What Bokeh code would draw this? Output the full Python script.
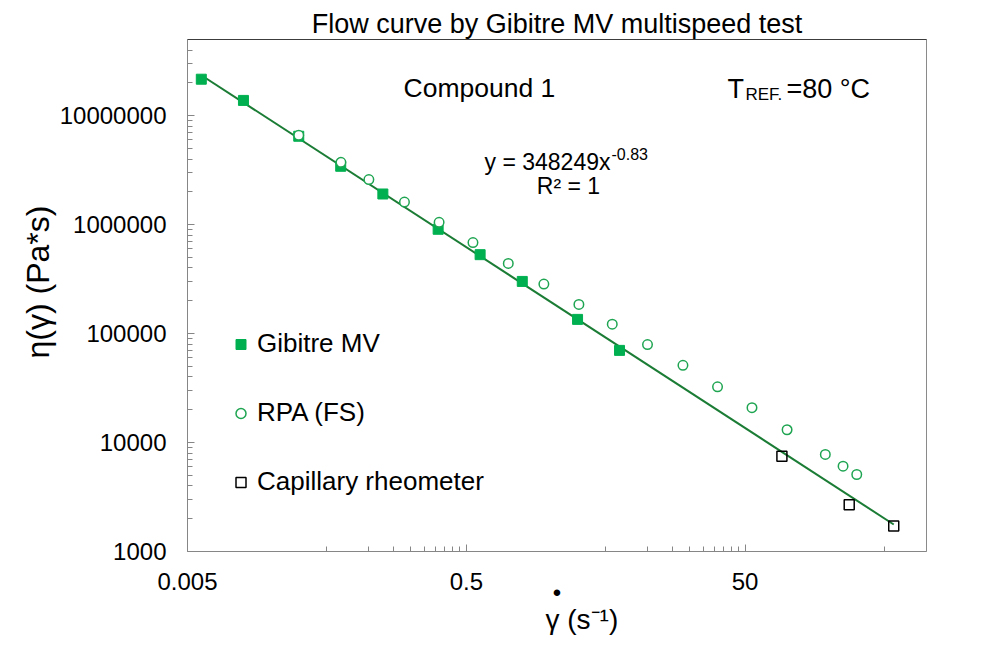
import math
from bokeh.plotting import figure
from bokeh.models import (Range1d, LogAxis, FixedTicker, Label, Legend, LegendItem,
                          CustomJSTickFormatter, Title)
from bokeh.embed import file_html
from bokeh.resources import INLINE

# ---------------- data ----------------
gibitre_rate = [0.00628, 0.0126, 0.0314, 0.0628, 0.126, 0.314, 0.628, 1.26, 3.14, 6.28]
gibitre_visc = [2.16e7, 1.38e7, 6.47e6, 3.43e6, 1.91e6, 9.06e5, 5.30e5, 3.01e5, 1.35e5, 7.01e4]

rpa_rate = [0.0314, 0.063, 0.100, 0.180, 0.319, 0.558, 1.00, 1.80, 3.21, 5.57,
            9.97, 17.9, 31.7, 56.0, 100, 188, 252, 316]
rpa_visc = [6.6e6, 3.73e6, 2.59e6, 1.61e6, 1.05e6, 6.84e5, 4.40e5, 2.85e5, 1.85e5, 1.22e5,
            7.92e4, 5.11e4, 3.25e4, 2.09e4, 1.31e4, 7.78e3, 6.07e3, 5.09e3]

cap_rate = [91.8, 279, 582]
cap_visc = [7.50e3, 2.68e3, 1.71e3]

# power-law trend line end points (y = 348249 x^-0.83)
fit_rate = [0.00628, 582]
fit_visc = [2.35e7, 1.77e3]

x_major = [0.005, 0.5, 50]
x_minor = [0.05, 0.1, 0.15, 0.2, 0.25, 0.3, 0.35, 0.4, 0.45,
           5, 10, 15, 20, 25, 30, 35, 40, 45, 500]
y_major = [1e3, 1e4, 1e5, 1e6, 1e7]
y_minor = [2e3, 3e3, 4e3, 5e3, 6e3, 7e3, 8e3, 9e3,
           2e4, 3e4, 4e4, 5e4, 6e4, 7e4, 8e4, 9e4,
           2e5, 3e5, 4e5, 5e5, 6e5, 7e5, 8e5, 9e5,
           2e6, 3e6, 4e6, 5e6, 6e6, 7e6, 8e6, 9e6,
           2e7, 3e7, 4e7]

title_text = "Flow curve by Gibitre MV multispeed test"
y_title = "η(γ) (Pa*s)"
x_title = "γ (s⁻¹)"
legend_labels = ["Gibitre MV", "RPA (FS)", "Capillary rheometer"]

# ---------------- styling ----------------
SANS = "Liberation Sans"
GREEN = "#00b050"
CIRCLE_GREEN = "#1fa552"
LINE_GREEN = "#1b7c35"
AXIS_GRAY = "#868686"

p = figure(width=984, height=641, x_axis_type="log", y_axis_type="log",
           x_range=Range1d(0.005, 1000), y_range=Range1d(1e3, 5e7),
           output_backend="svg", toolbar_location=None,
           min_border_left=187, min_border_right=58, min_border_top=39, min_border_bottom=90,
           background_fill_color="white", border_fill_color="white",
           outline_line_color="#8a8a8a")
p.xgrid.visible = False
p.ygrid.visible = False

p.title.text = title_text
p.title.text_font = SANS
p.title.text_font_size = "27px"
p.title.text_font_style = "normal"
p.title.text_color = "black"
p.title.align = "center"
p.title.standoff = 2

fmt = CustomJSTickFormatter(code="return tick.toString();")
for ax, maj, mino in ((p.xaxis[0], x_major, x_minor), (p.yaxis[0], y_major, y_minor)):
    ax.ticker = FixedTicker(ticks=maj, minor_ticks=mino)
    ax.formatter = fmt
    ax.axis_line_color = AXIS_GRAY
    ax.major_tick_line_color = AXIS_GRAY
    ax.minor_tick_line_color = AXIS_GRAY
    ax.major_tick_in = 7
    ax.major_tick_out = 0
    ax.minor_tick_in = 5
    ax.minor_tick_out = 0
    ax.major_label_text_font = SANS
    ax.major_label_text_font_size = "24px"
    ax.major_label_text_color = "black"
p.xaxis[0].major_label_standoff = 21
p.yaxis[0].major_label_standoff = 21

# y axis title as a side Title so it can be placed along the axis
yt = Title(text=y_title, align="left", offset=193, text_font=SANS,
           text_font_size="32px", text_font_style="normal", text_color="black",
           standoff=1)
p.add_layout(yt, "left")

# x axis title: the dot of gamma-dot as axis label, the rest as a Title below
p.xaxis[0].axis_label = "•"
p.xaxis[0].axis_label_text_font = SANS
p.xaxis[0].axis_label_text_font_size = "24px"
p.xaxis[0].axis_label_text_font_style = "normal"
p.xaxis[0].axis_label_text_color = "black"
p.xaxis[0].axis_label_standoff = -14

xt = Title(text=x_title, align="left", offset=545 - 187, text_font=SANS,
           text_font_size="28px", text_font_style="normal", text_color="black",
           standoff=-13)
p.add_layout(xt, "below")

top_axis = LogAxis(ticker=FixedTicker(ticks=[]), axis_line_color="#3c3c3c",
                   major_tick_in=0, major_tick_out=0, minor_tick_in=0, minor_tick_out=0,
                   major_label_text_font_size="0px", major_label_standoff=0)
p.add_layout(top_axis, "above")

r_fit = p.line(fit_rate, fit_visc, line_color=LINE_GREEN, line_width=2)
r_g = p.scatter(gibitre_rate, gibitre_visc, marker="square", size=10,
                fill_color=GREEN, line_color=GREEN)
r_r = p.scatter(rpa_rate, rpa_visc, marker="circle", size=9.5,
                fill_color="white", line_color=CIRCLE_GREEN, line_width=1.5)
r_c = p.scatter(cap_rate, cap_visc, marker="square", size=10,
                fill_color=None, line_color="black", line_width=1.5)

legend = Legend(items=[LegendItem(label=legend_labels[0], renderers=[r_g]),
                       LegendItem(label=legend_labels[1], renderers=[r_r]),
                       LegendItem(label=legend_labels[2], renderers=[r_c])],
                location=(41, 54), orientation="vertical", padding=0, margin=0,
                spacing=38, glyph_width=25, glyph_height=30, label_height=30,
                label_standoff=4, label_text_font=SANS, label_text_font_size="26px",
                label_text_color="black",
                border_line_alpha=0, background_fill_alpha=0)
p.add_layout(legend)

# ---------------- in-frame text annotations (page px -> frame screen coords) ----------------
FL, FB = 187, 551


def lab(text, px, py, size, align="left"):
    p.add_layout(Label(x=px - FL, y=FB - py, x_units="screen", y_units="screen",
                       text=text, text_font=SANS, text_font_size=f"{size}px",
                       text_align=align, text_baseline="alphabetic",
                       text_color="black"))


lab("Compound 1", 403, 87, 26.5)
lab("T", 727, 88, 27)
lab("REF.", 745, 94, 17)
lab("=80 °C", 786, 88, 27)
lab("y = 348249x", 484, 161.5, 23)
lab("-0.83", 611, 153, 16)
lab("R² = 1", 568, 185, 23, align="center")

open("out.html", "w").write(file_html(p, INLINE))
